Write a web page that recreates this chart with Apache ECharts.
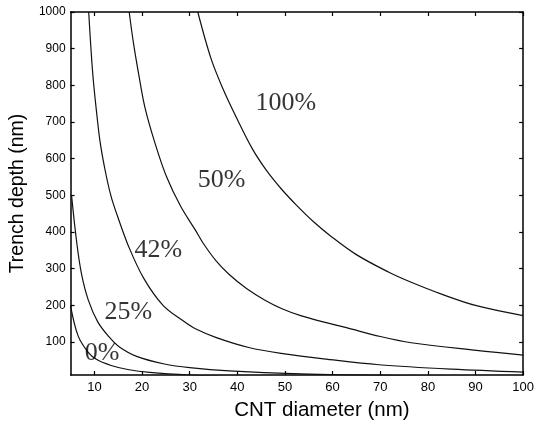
<!DOCTYPE html>
<html>
<head>
<meta charset="utf-8">
<title>Trench depth vs CNT diameter</title>
<script src="https://cdn.jsdelivr.net/npm/echarts@6/dist/echarts.min.js"></script>
<style>
  html, body { margin: 0; padding: 0; background: #fff; }
  #chart { width: 537px; height: 426px; }
</style>
</head>
<body>
<div id="chart"></div>
<script>
// tick values
var xTicks = [10, 20, 30, 40, 50, 60, 70, 80, 90, 100];
var yTicks = [100, 200, 300, 400, 500, 600, 700, 800, 900, 1000];

// curves: [diameter, depth]
var curve100 = [[31.7, 1000], [34.5, 872], [37, 790], [39.7, 715], [43.1, 628], [46, 570], [49.2, 518],
    [52.5, 472], [56, 428], [59.5, 390], [64.9, 339], [71.7, 291], [76.5, 263], [83, 230], [90.2, 199], [100, 172]];
var curve50 = [[17.3, 1000], [18.2, 915], [19.3, 830], [20.6, 740], [22.7, 643], [25.1, 552], [28.1, 470],
    [31.2, 405], [32.8, 370], [35.5, 322], [38.3, 284], [42, 245], [45.8, 214], [49.5, 190], [53.3, 172],
    [59.5, 150], [62.9, 139], [70, 115], [76.5, 98], [90.2, 77], [100, 64]];
var curve42 = [[8.8, 1000], [9.2, 915], [9.7, 824], [10.4, 733], [11.2, 645], [12.3, 565], [13.5, 497],
    [14.8, 445], [17.2, 360], [20.3, 275], [24.4, 200], [28.7, 157], [31.2, 136], [35.6, 112], [42.4, 85],
    [49.2, 69], [59.5, 52], [69.7, 38], [85, 26], [100, 18]];
var curve25 = [[5.2, 500], [6.3, 370], [7.3, 285], [8.7, 215], [10.7, 155], [13, 115], [15.1, 88], [19, 60],
    [24.7, 40], [30, 30], [38.3, 21], [53.3, 13], [75, 8], [100, 5]];
var curve0 = [[5, 198], [6.6, 116], [8.7, 72], [10.5, 52], [13.5, 36], [17, 25], [21.6, 17], [30, 10],
    [40, 6], [60, 3], [100, 1.5]];

// curve labels
var labelNames = ["100%", "50%", "42%", "25%", "0%"];
var labelX = [50.2, 36.7, 23.4, 17.1, 11.6];
var labelY = [750, 540, 350, 182, 69];

var myChart = echarts.init(document.getElementById('chart'));

function lineSeries(name, data) {
    return {
        name: name,
        type: 'line',
        data: data,
        showSymbol: false,
        smooth: 0.35,
        clip: true,
        lineStyle: { color: '#111', width: 1.2 },
        z: 3
    };
}

var labelData = [];
for (var i = 0; i < labelNames.length; i++) {
    labelData.push([labelX[i], labelY[i], labelNames[i]]);
}

var axisLine = { show: true, onZero: false, lineStyle: { color: '#000', width: 1.5 } };

var option = {
    backgroundColor: '#fff',
    animation: false,
    grid: { left: 64, right: 9, top: 12, bottom: 50 },
    xAxis: [{
        type: 'value',
        min: 5,
        max: 100,
        name: 'CNT diameter (nm)',
        nameLocation: 'middle',
        nameGap: 25,
        nameTextStyle: { fontFamily: 'Liberation Sans', fontSize: 20.5, color: '#000', padding: [0, 0, 0, 50] },
        axisLine: axisLine,
        axisTick: { inside: true, length: 4, customValues: xTicks, lineStyle: { color: '#000', width: 1.2 } },
        axisLabel: { customValues: xTicks, margin: 6, fontFamily: 'Liberation Sans', fontSize: 13, color: '#000' },
        splitLine: { show: false }
    }, {
        type: 'value',
        position: 'top',
        min: 5,
        max: 100,
        axisLine: axisLine,
        axisTick: { inside: true, length: 4, customValues: xTicks, lineStyle: { color: '#000', width: 1.2 } },
        axisLabel: { show: false },
        splitLine: { show: false }
    }],
    yAxis: [{
        type: 'value',
        min: 10,
        max: 1000,
        name: 'Trench depth (nm)',
        nameLocation: 'middle',
        nameGap: 37,
        nameTextStyle: { fontFamily: 'Liberation Sans', fontSize: 19.5, color: '#000' },
        axisLine: axisLine,
        axisTick: { inside: true, length: 4, customValues: yTicks, lineStyle: { color: '#000', width: 1.2 } },
        axisLabel: {
            customValues: yTicks, margin: 5, fontFamily: 'Liberation Sans', fontSize: 12, color: '#000',
            formatter: function (v) { return String(v); }
        },
        splitLine: { show: false }
    }, {
        type: 'value',
        position: 'right',
        min: 10,
        max: 1000,
        axisLine: axisLine,
        axisTick: { inside: true, length: 4, customValues: yTicks, lineStyle: { color: '#000', width: 1.2 } },
        axisLabel: { show: false },
        splitLine: { show: false }
    }],
    series: [
        lineSeries('100%', curve100),
        lineSeries('50%', curve50),
        lineSeries('42%', curve42),
        lineSeries('25%', curve25),
        lineSeries('0%', curve0),
        {
            type: 'scatter',
            data: labelData,
            symbolSize: 0,
            itemStyle: { color: 'rgba(0,0,0,0)' },
            silent: true,
            z: 5,
            label: {
                show: true,
                position: 'inside',
                formatter: function (p) { return p.value[2]; },
                fontFamily: 'Liberation Serif',
                fontSize: 26,
                color: '#000'
            }
        }
    ]
};

myChart.setOption(option);
</script>
</body>
</html>
